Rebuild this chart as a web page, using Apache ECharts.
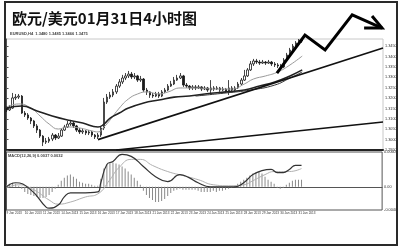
<!DOCTYPE html>
<html>
<head>
<meta charset="utf-8">
<script src="https://cdn.jsdelivr.net/npm/echarts@6/dist/echarts.min.js"></script>
<style>
  html, body { margin: 0; padding: 0; background: #fff; }
  #chart { width: 400px; height: 250px; }
</style>
</head>
<body>
<div id="chart"></div>
<script>
// EUR/USD 4-hour bars, 9 Jan - 31 Jan 2013
const days = ['9 Jan 2013', '10 Jan 2013', '11 Jan 2013', '14 Jan 2013', '15 Jan 2013', '16 Jan 2013',
  '17 Jan 2013', '18 Jan 2013', '21 Jan 2013', '22 Jan 2013', '23 Jan 2013', '24 Jan 2013',
  '25 Jan 2013', '28 Jan 2013', '29 Jan 2013', '30 Jan 2013', '31 Jan 2013'];
const hours = ['00:00', '04:00', '08:00', '12:00', '16:00', '20:00'];

// [open, close, low, high]
const ohlc = [
  [1.3152,1.3143,1.3133,1.3162],[1.3143,1.3152,1.3138,1.3167],[1.3152,1.3201,1.3148,1.3225],[1.3201,1.3205,1.3191,1.3220],
  [1.3205,1.3210,1.3196,1.3220],[1.3210,1.3128,1.3124,1.3215],[1.3128,1.3119,1.3109,1.3138],[1.3119,1.3104,1.3095,1.3128],
  [1.3104,1.3090,1.3075,1.3109],[1.3090,1.3066,1.3056,1.3095],[1.3066,1.3046,1.3032,1.3075],[1.3046,1.3017,1.3008,1.3051],
  [1.3017,1.2988,1.2969,1.3022],[1.2988,1.2993,1.2979,1.3008],[1.2993,1.3003,1.2984,1.3013],[1.3003,1.3022,1.2993,1.3032],
  [1.3022,1.3008,1.2998,1.3027],[1.3008,1.3017,1.3003,1.3032],[1.3017,1.3046,1.3013,1.3056],[1.3046,1.3061,1.3042,1.3071],
  [1.3061,1.3075,1.3056,1.3090],[1.3075,1.3080,1.3066,1.3095],[1.3080,1.3066,1.3056,1.3085],[1.3066,1.3046,1.3037,1.3071],
  [1.3046,1.3037,1.3027,1.3056],[1.3037,1.3042,1.3027,1.3056],[1.3042,1.3032,1.3022,1.3046],[1.3032,1.3037,1.3022,1.3046],
  [1.3037,1.3022,1.3013,1.3042],[1.3022,1.3013,1.3003,1.3027],[1.3013,1.3022,1.3003,1.3032],[1.3022,1.3056,1.3013,1.3066],
  [1.3056,1.3181,1.3046,1.3201],[1.3181,1.3205,1.3172,1.3220],[1.3205,1.3215,1.3196,1.3230],[1.3215,1.3230,1.3205,1.3244],
  [1.3230,1.3258,1.3220,1.3268],[1.3258,1.3278,1.3249,1.3292],[1.3278,1.3297,1.3268,1.3312],[1.3297,1.3307,1.3287,1.3321],
  [1.3307,1.3316,1.3297,1.3331],[1.3316,1.3302,1.3292,1.3326],[1.3302,1.3307,1.3292,1.3321],[1.3307,1.3287,1.3278,1.3312],
  [1.3287,1.3292,1.3278,1.3307],[1.3292,1.3239,1.3230,1.3297],[1.3239,1.3230,1.3215,1.3249],[1.3230,1.3215,1.3201,1.3234],
  [1.3215,1.3210,1.3201,1.3225],[1.3210,1.3220,1.3205,1.3230],[1.3220,1.3210,1.3201,1.3230],[1.3210,1.3230,1.3205,1.3239],
  [1.3230,1.3239,1.3225,1.3249],[1.3239,1.3258,1.3234,1.3268],[1.3258,1.3268,1.3254,1.3283],[1.3268,1.3287,1.3263,1.3302],
  [1.3287,1.3297,1.3283,1.3312],[1.3297,1.3307,1.3292,1.3321],[1.3307,1.3263,1.3254,1.3312],[1.3263,1.3258,1.3249,1.3273],
  [1.3258,1.3249,1.3239,1.3263],[1.3249,1.3254,1.3239,1.3263],[1.3254,1.3249,1.3239,1.3263],[1.3249,1.3254,1.3244,1.3263],
  [1.3254,1.3244,1.3234,1.3258],[1.3244,1.3249,1.3239,1.3258],[1.3249,1.3239,1.3230,1.3254],[1.3239,1.3249,1.3215,1.3287],
  [1.3249,1.3244,1.3234,1.3258],[1.3244,1.3249,1.3239,1.3258],[1.3249,1.3239,1.3230,1.3254],[1.3239,1.3244,1.3234,1.3254],
  [1.3244,1.3234,1.3225,1.3249],[1.3234,1.3249,1.3215,1.3287],[1.3249,1.3239,1.3230,1.3258],[1.3239,1.3249,1.3234,1.3258],
  [1.3249,1.3268,1.3244,1.3278],[1.3268,1.3287,1.3263,1.3297],[1.3287,1.3307,1.3283,1.3336],[1.3307,1.3336,1.3302,1.3345],
  [1.3336,1.3365,1.3331,1.3379],[1.3365,1.3379,1.3355,1.3389],[1.3379,1.3374,1.3365,1.3389],[1.3374,1.3369,1.3360,1.3384],
  [1.3369,1.3374,1.3365,1.3384],[1.3374,1.3369,1.3360,1.3379],[1.3369,1.3374,1.3365,1.3384],[1.3374,1.3365,1.3355,1.3379],
  [1.3365,1.3360,1.3350,1.3374],[1.3360,1.3355,1.3345,1.3369],[1.3355,1.3350,1.3340,1.3365],[1.3350,1.3384,1.3345,1.3393],
  [1.3384,1.3408,1.3379,1.3418],[1.3408,1.3432,1.3403,1.3442],[1.3432,1.3451,1.3427,1.3461],[1.3451,1.3466,1.3446,1.3475],
  [1.3466,1.3480,1.3461,1.3485],[1.3480,1.3475,1.3466,1.3485]
];

// moving averages, [bar index, price]
const maFast = [[0,1.3157],[4,1.3172],[8,1.3152],[11,1.3114],[14,1.3075],[17,1.3051],[20,1.3061],[24,1.3056],
  [28,1.3042],[30,1.3037],[32,1.3061],[34,1.3095],[37,1.3152],[40,1.3196],[43,1.3220],[46,1.3230],[50,1.3220],
  [53,1.3230],[57,1.3249],[62,1.3249],[68,1.3244],[74,1.3244],[78,1.3268],[81,1.3292],[85,1.3307],[89,1.3326],
  [93,1.3360],[97,1.3403]];
const maSlow = [[0,1.3152],[5,1.3162],[10,1.3138],[15,1.3114],[20,1.3095],[25,1.3080],[30,1.3061],[32,1.3075],
  [34,1.3104],[37,1.3128],[40,1.3152],[45,1.3177],[50,1.3191],[55,1.3205],[60,1.3210],[65,1.3220],[72,1.3230],
  [78,1.3239],[83,1.3258],[88,1.3278],[93,1.3307],[97,1.3336]];
const maLong = [[62,1.3210],[72,1.3225],[80,1.3239],[88,1.3263],[93,1.3297],[97,1.3326]];

// support lines and projected path, [bar index, price]
const trendUpper = [[30,1.3000],[123.5,1.3442]];
const trendLower = [[36,1.2950],[123.5,1.3085]];
const projection = [[88.7,1.3321],[97.9,1.3504],[104.5,1.3432],[113.4,1.3601],[123.2,1.3538]];
const arrowHead = [[119.9,1.3596],[123.2,1.3538],[117.3,1.3538]];

// MACD(12,26,9)
const macdHist = [0.00035,0.00053,0.0007,0.00053,0.00018,-0.00035,-0.00088,-0.00123,-0.0014,-0.00158,-0.00175,
  -0.00193,-0.00193,-0.00175,-0.0014,-0.00088,-0.00035,0.00035,0.00105,0.00158,0.00193,0.0021,0.00175,0.0014,
  0.00088,0.0007,0.00053,0.00053,0.00035,0.00018,0.00018,0.0014,0.00315,0.00385,0.0042,0.0042,0.00403,0.00385,
  0.0035,0.00315,0.00263,0.0021,0.00158,0.00105,0.00035,-0.0007,-0.0014,-0.00193,-0.00228,-0.00263,-0.00263,
  -0.00245,-0.0021,-0.00158,-0.00105,-0.0007,-0.00053,-0.00035,-0.00053,-0.00053,-0.00053,-0.00053,-0.00053,
  -0.0007,-0.00088,-0.00088,-0.00088,-0.00088,-0.0007,-0.00088,-0.0007,-0.0007,-0.00053,-0.00035,-0.00018,
  0.00018,0.00053,0.00088,0.00123,0.00158,0.00193,0.00228,0.00245,0.00263,0.00228,0.00175,0.00123,0.00088,
  0.00053,-0.00018,-0.00035,-0.00018,0.00035,0.0007,0.00105,0.00123,0.00123,0.00123];
const macdMain = [[0,0],[3,0.0007],[8,-0.00053],[13,-0.0035],[14,-0.00368],[17,-0.00315],[19,-0.00175],
  [21,-0.00105],[24,-0.00105],[30,-0.00088],[31,0.0007],[33,0.00385],[35,0.00438],[38,0.0056],[41,0.00525],
  [45,0.0035],[49,0.00175],[53,0.00088],[57,0.0021],[60,0.00158],[63,0.0007],[67,0],[72,0],[75,0],[78,0.0007],
  [81,0.0021],[84,0.0028],[87,0.003],[89,0.00245],[91,0.00245],[93,0.003],[95,0.0037],[97,0.0037]];
const macdSignal = [[0,-0.00018],[4,0.00035],[9,-0.00053],[14,-0.00228],[17,-0.003],[21,-0.00263],[26,-0.00175],
  [30,-0.00123],[34,0.00123],[37,0.00333],[41,0.00473],[44,0.00473],[48,0.00368],[53,0.00263],[58,0.00193],
  [63,0.00123],[68,0.00035],[73,0.00018],[78,0.00035],[81,0.00105],[85,0.0021],[88,0.00263],[93,0.00263],[97,0.00315]];

const priceTicks = { min: 1.2950, max: 1.3485, step: 0.0050 };
const macdTicks = { min: -0.004, max: 0.006, step: 0.002, shown: [-0.004, 0, 0.006] };
const lastBar = ohlc[ohlc.length - 1];

const categories = [];
days.forEach(d => hours.forEach(h => categories.push(d + ' ' + h)));
categories.length = ohlc.length;
const slots = 123; // last index on the time axis (room to the right of the bars)

const chart = echarts.init(document.getElementById('chart'), null, { renderer: 'canvas' });
const tiny = 'Liberation Sans';

chart.setOption({
  animation: false,
  backgroundColor: '#fff',
  title: {
    text: '欧元/美元01月31日4小时图',
    left: 7, top: 6,
    textStyle: { fontFamily: 'Noto Sans CJK SC', fontSize: 15, fontWeight: 'bold', color: '#111' }
  },
  graphic: [
    { type: 'rect', shape: { x: 5, y: 2, width: 392, height: 243 },
      style: { fill: 'none', stroke: '#2a2a2a', lineWidth: 2 }, z: 100 },
    { type: 'text', x: 10, y: 32,
      style: { text: 'EURUSD,H4  ' + lastBar[0].toFixed(4) + ' ' + lastBar[3].toFixed(4) + ' ' + lastBar[2].toFixed(4) + ' ' + lastBar[1].toFixed(4),
        font: 'bold 4px ' + tiny, fill: '#444' } },
    { type: 'text', x: 8, y: 154,
      style: { text: 'MACD(12,26,9) 0.0037 0.0032', font: 'bold 4px ' + tiny, fill: '#444' } }
  ],
  grid: [
    { left: 5, right: 17, top: 39, height: 111, show: true, borderColor: '#c8c8c8', borderWidth: 1 },
    { left: 5, right: 17, top: 152, height: 58, show: true, borderColor: '#555', borderWidth: 1 }
  ],
  xAxis: [
    { type: 'category', gridIndex: 0, data: categories, max: slots,
      axisLine: { show: true, lineStyle: { color: '#222', width: 2 } },
      axisTick: { show: false }, axisLabel: { show: false }, splitLine: { show: false } },
    { type: 'value', gridIndex: 0, min: -0.5, max: slots + 0.5, show: false },
    { type: 'category', gridIndex: 1, data: categories, max: slots,
      axisLine: { show: true, lineStyle: { color: '#555', width: 1 } },
      axisTick: { show: false }, splitLine: { show: false },
      axisLabel: {
        fontSize: 3.1, fontFamily: tiny, color: '#333', align: 'left', margin: 2,
        interval: (idx) => idx % 6 === 0 && idx < ohlc.length,
        formatter: (v) => v ? v.slice(0, v.lastIndexOf(' ')) : ''
      } },
    { type: 'value', gridIndex: 1, min: -0.5, max: slots + 0.5, show: false }
  ],
  yAxis: [
    { type: 'value', gridIndex: 0, position: 'right', scale: true,
      min: priceTicks.min, max: priceTicks.max, interval: priceTicks.step,
      axisLine: { show: true, lineStyle: { color: '#555' } },
      axisTick: { show: true, length: 2, lineStyle: { color: '#555' } },
      splitLine: { show: false },
      axisLabel: { fontSize: 3.8, fontFamily: tiny, color: '#333', margin: 2, showMaxLabel: false,
        formatter: (v) => v.toFixed(4) } },
    { type: 'value', gridIndex: 1, position: 'right',
      min: macdTicks.min, max: macdTicks.max, interval: macdTicks.step,
      axisLine: { show: true, lineStyle: { color: '#555' } },
      axisTick: { show: false }, splitLine: { show: false },
      axisLabel: { fontSize: 3.8, fontFamily: tiny, color: '#333', margin: 2,
        formatter: (v) => macdTicks.shown.some(s => Math.abs(s - v) < 1e-9) ? (v === 0 ? '0.00' : v.toFixed(4)) : '' } }
  ],
  series: [
    { type: 'candlestick', xAxisIndex: 0, yAxisIndex: 0, data: ohlc, barWidth: 2,
      itemStyle: { color: '#fff', color0: '#1a1a1a', borderColor: '#1a1a1a', borderColor0: '#1a1a1a', borderWidth: 0.8 },
      markLine: {
        silent: true, symbol: 'none', animation: false,
        lineStyle: { opacity: 0 },
        label: { position: 'end', distance: 1, formatter: (p) => p.value.toFixed(4),
          backgroundColor: '#000', color: '#fff', fontSize: 3.8, fontFamily: tiny, padding: [1, 1.5] },
        data: [{ yAxis: lastBar[1] }]
      } },
    { type: 'line', xAxisIndex: 1, yAxisIndex: 0, data: maFast, smooth: true, showSymbol: false,
      lineStyle: { color: '#9a9a9a', width: 1 } },
    { type: 'line', xAxisIndex: 1, yAxisIndex: 0, data: maSlow, smooth: true, showSymbol: false,
      lineStyle: { color: '#222', width: 1.6 } },
    { type: 'line', xAxisIndex: 1, yAxisIndex: 0, data: maLong, smooth: true, showSymbol: false,
      lineStyle: { color: '#333', width: 1 } },
    { type: 'line', xAxisIndex: 1, yAxisIndex: 0, data: trendUpper, showSymbol: false,
      lineStyle: { color: '#111', width: 1.6 } },
    { type: 'line', xAxisIndex: 1, yAxisIndex: 0, data: trendLower, showSymbol: false,
      lineStyle: { color: '#111', width: 1.6 } },
    { type: 'line', xAxisIndex: 1, yAxisIndex: 0, data: projection, showSymbol: false, clip: false, z: 10,
      lineStyle: { color: '#000', width: 3, join: 'miter' } },
    { type: 'line', xAxisIndex: 1, yAxisIndex: 0, data: arrowHead, showSymbol: false, clip: false, z: 10,
      lineStyle: { color: '#000', width: 3, join: 'miter' } },
    { type: 'bar', xAxisIndex: 2, yAxisIndex: 1, data: macdHist, barWidth: 1,
      itemStyle: { color: '#8a8a8a' } },
    { type: 'line', xAxisIndex: 3, yAxisIndex: 1, data: macdSignal, smooth: true, showSymbol: false,
      lineStyle: { color: '#b0b0b0', width: 1 } },
    { type: 'line', xAxisIndex: 3, yAxisIndex: 1, data: macdMain, smooth: true, showSymbol: false,
      lineStyle: { color: '#333', width: 1.2 } }
  ]
});
</script>
</body>
</html>
